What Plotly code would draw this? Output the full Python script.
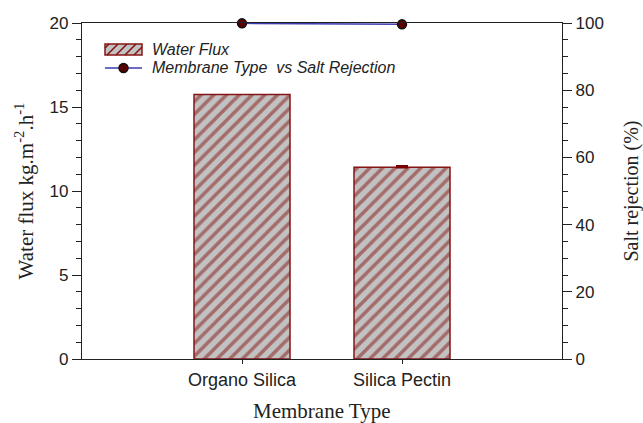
import plotly.graph_objects as go

# Membrane performance data
membranes = ["Organo Silica", "Silica Pectin"]
water_flux = [15.75, 11.41]          # kg.m-2.h-1
water_flux_err = [None, 0.06]        # only Silica Pectin has a reported deviation
salt_rejection = [99.9, 99.6]        # %

left_ticks = [0, 5, 10, 15, 20]
right_ticks = [0, 20, 40, 60, 80, 100]

BAR_EDGE = "#861414"
BAR_FILL = "#c2c2c2"
TEXT = "#222222"
SANS = "Liberation Sans, Arial, sans-serif"
SERIF = "Liberation Serif, Times New Roman, serif"

W, H = 643, 423
ML, MR, MT, MB = 82, 81, 23, 64
PW, PH = W - ML - MR, H - MT - MB


def px_x(p):
    return (p - ML) / PW


def px_y(p):
    return (H - MB - p) / PH


fig = go.Figure()

fig.add_trace(go.Bar(
    x=membranes,
    y=water_flux,
    name="Water Flux",
    width=0.6,
    marker=dict(
        color=BAR_FILL,
        line=dict(color=BAR_EDGE, width=1.5),
        pattern=dict(shape="/", fgcolor=BAR_EDGE, bgcolor=BAR_FILL,
                     size=9, solidity=0.4),
    ),
    yaxis="y",
    showlegend=False,
))

# Error bar only where a deviation exists
err_x = [m for m, e in zip(membranes, water_flux_err) if e is not None]
err_y = [v for v, e in zip(water_flux, water_flux_err) if e is not None]
err_v = [e for e in water_flux_err if e is not None]
fig.add_trace(go.Scatter(
    x=err_x, y=err_y, mode="markers",
    marker=dict(size=0.1, color="rgba(0,0,0,0)"),
    error_y=dict(type="data", array=err_v, arrayminus=[0] * len(err_v), visible=True,
                 color="#7a0000", thickness=2.5, width=6),
    yaxis="y", showlegend=False, hoverinfo="skip",
))

fig.add_trace(go.Scatter(
    x=membranes,
    y=salt_rejection,
    name="Membrane Type  vs Salt Rejection",
    mode="lines+markers",
    line=dict(color="#3b3bb0", width=1.5),
    marker=dict(color="#5a0000", size=9, line=dict(color="#111111", width=1.5)),
    yaxis="y2",
    cliponaxis=False,
    showlegend=False,
))

# Hand-drawn legend (wide hatched swatch + line/marker swatch)
shapes = []
sx0, sx1 = 105, 142
sy0, sy1 = 44, 55
shapes.append(dict(type="rect", xref="paper", yref="paper",
                   x0=px_x(sx0), x1=px_x(sx1), y0=px_y(sy1), y1=px_y(sy0),
                   fillcolor=BAR_FILL, line=dict(color=BAR_EDGE, width=1.5)))
c = sx0 + sy0 + 4
while c < sx1 + sy1:
    xa = max(sx0, c - sy1)
    xb = min(sx1, c - sy0)
    if xb > xa:
        shapes.append(dict(type="line", xref="paper", yref="paper",
                           x0=px_x(xa), y0=px_y(c - xa),
                           x1=px_x(xb), y1=px_y(c - xb),
                           line=dict(color=BAR_EDGE, width=1.6)))
    c += 9
ly = 68
shapes.append(dict(type="line", xref="paper", yref="paper",
                   x0=px_x(105), x1=px_x(142), y0=px_y(ly), y1=px_y(ly),
                   line=dict(color="#3b3bb0", width=1.5)))
shapes.append(dict(type="circle", xref="paper", yref="paper",
                   x0=px_x(119), x1=px_x(128), y0=px_y(ly + 4.5), y1=px_y(ly - 4.5),
                   fillcolor="#5a0000", line=dict(color="#111111", width=1.5)))

annotations = [
    dict(text="Water Flux", xref="paper", yref="paper",
         x=px_x(150), y=px_y(49.5), xanchor="left", yanchor="middle",
         showarrow=False, font=dict(family=SANS, size=16, color=TEXT, style="italic")),
    dict(text="Membrane Type  vs Salt Rejection", xref="paper", yref="paper",
         x=px_x(150), y=px_y(ly), xanchor="left", yanchor="middle",
         showarrow=False, font=dict(family=SANS, size=16, color=TEXT, style="italic")),
    # x-axis title, placed low near the page edge
    dict(text="Membrane Type", xref="paper", yref="paper",
         x=0.5, y=px_y(397), xanchor="center", yanchor="top",
         showarrow=False, font=dict(family=SERIF, size=21, color=TEXT)),
]

fig.update_layout(
    width=W,
    height=H,
    margin=dict(l=ML, r=MR, t=MT, b=MB),
    paper_bgcolor="white",
    plot_bgcolor="white",
    showlegend=False,
    shapes=shapes,
    annotations=annotations,
    xaxis=dict(
        type="category",
        range=[-1, 2],
        automargin=False,
        showline=True, linecolor=TEXT, linewidth=1.2, mirror=True,
        ticks="outside", ticklen=4, tickcolor=TEXT,
        tickfont=dict(family=SANS, size=18, color=TEXT),
        showgrid=False, zeroline=False,
    ),
    yaxis=dict(
        range=[0, 20],
        tickvals=left_ticks,
        automargin=False,
        showline=True, linecolor=TEXT, linewidth=1.2,
        ticks="outside", ticklen=9, tickcolor=TEXT,
        minor=dict(dtick=1, ticks="outside", ticklen=5, tickcolor=TEXT, showgrid=False),
        tickfont=dict(family=SANS, size=17, color=TEXT),
        showgrid=False, zeroline=False,
        title=dict(text="Water flux kg.m<sup>-2</sup>.h<sup>-1</sup>", standoff=10,
                   font=dict(family=SERIF, size=21, color=TEXT)),
    ),
    yaxis2=dict(
        range=[0, 100],
        tickvals=right_ticks,
        overlaying="y", side="right",
        automargin=False,
        showline=True, linecolor=TEXT, linewidth=1.2,
        ticks="outside", ticklen=9, tickcolor=TEXT,
        minor=dict(dtick=5, ticks="outside", ticklen=5, tickcolor=TEXT, showgrid=False),
        tickfont=dict(family=SANS, size=17, color=TEXT),
        showgrid=False, zeroline=False,
        title=dict(text="Salt rejection (%)", standoff=24,
                   font=dict(family=SERIF, size=20, color=TEXT)),
    ),
)

fig.write_html("out.html")
